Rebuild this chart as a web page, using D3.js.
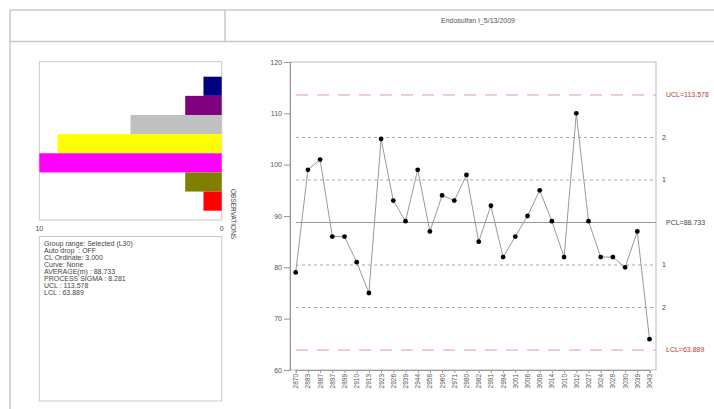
<!DOCTYPE html>
<html><head><meta charset="utf-8">
<script src="https://cdn.jsdelivr.net/npm/d3@7"></script>
<style>body{margin:0;background:#fff;}svg{display:block;font-family:"Liberation Sans",Arial,sans-serif;}</style>
</head><body>
<svg id="c" width="714" height="409"></svg>
<script>
const title = "Endosulfan I_5/13/2009";
const sampleLabels = ["2870","2883","2887","2897","2899","2910","2913","2923","2926","2939","2944","2958","2960","2971","2980","2982","2991","2994","3001","3006","3008","3014","3010","3012","3027","3024","3028","3030","3039","3043"];
const sampleValues = [79,99,101,86,86,81,75,105,93,89,99,87,94,93,98,85,92,82,86,90,95,89,82,110,89,82,82,80,87,66];
const yTicks = [60,70,80,90,100,110,120];
const histBins = ["b7","b6","b5","b4","b3","b2","b1"];
const histCounts = [1,2,5,9,10,2,1];
const histColors = ["#000080","#800080","#c0c0c0","#ffff00","#ff00ff","#808000","#ff0000"];
const histTicks = [10,0];
const centerLine = 88.733, sigma = 8.281, ucl = 113.578, lcl = 63.889;
const infoLines = ["Group range: Selected (L30)","Auto drop  : OFF","CL Ordinate: 3.000","Curve: None","AVERAGE(m) : 88.733","PROCESS SIGMA : 8.281","UCL : 113.578","LCL : 63.889"];

const svg = d3.select("#c");
const frameCol = "#c8c8c8";

// outer frame / header
svg.append("line").attr("x1",10).attr("x2",714).attr("y1",10).attr("y2",10).attr("stroke",frameCol).attr("stroke-width",1.5);
svg.append("line").attr("x1",10).attr("x2",714).attr("y1",41.5).attr("y2",41.5).attr("stroke",frameCol).attr("stroke-width",1.5);
svg.append("line").attr("x1",10).attr("x2",10).attr("y1",10).attr("y2",409).attr("stroke",frameCol).attr("stroke-width",1.5);
svg.append("line").attr("x1",225).attr("x2",225).attr("y1",10).attr("y2",41.5).attr("stroke",frameCol).attr("stroke-width",1.5);
svg.append("text").attr("x",478).attr("y",23).attr("text-anchor","middle").attr("font-size",7).attr("fill","#555").text(title);

// histogram
const hx = d3.scaleLinear().domain([10,0]).range([39.3,221.7]);
const hy = d3.scaleBand().domain(histBins).range([76.7,210.7]).padding(0);
svg.append("rect").attr("x",39.3).attr("y",61.7).attr("width",221.7-39.3).attr("height",220-61.7).attr("fill","none").attr("stroke",frameCol).attr("stroke-width",1);
svg.selectAll(".hb").data(histBins).join("rect").attr("class","hb")
  .attr("x",(d,i)=>hx(histCounts[i])).attr("y",d=>hy(d))
  .attr("width",(d,i)=>hx(0)-hx(histCounts[i])).attr("height",hy.bandwidth())
  .attr("fill",(d,i)=>histColors[i]);
svg.selectAll(".ht").data(histTicks).join("text").attr("class","ht")
  .attr("x",d=>hx(d)).attr("y",231).attr("text-anchor","middle").attr("font-size",7).attr("fill","#444").text(d=>d);
svg.append("text").attr("transform","translate(231,189) rotate(90)").attr("font-size",6.5).attr("fill","#444").text("OBSERVATIONS");

// info box
svg.append("rect").attr("x",39.3).attr("y",236.5).attr("width",221.7-39.3).attr("height",401-236.5).attr("fill","none").attr("stroke",frameCol).attr("stroke-width",1);
svg.selectAll(".il").data(infoLines).join("text").attr("class","il")
  .attr("x",44).attr("y",(d,i)=>246+i*7.05).attr("font-size",7).attr("fill","#444").style("white-space","pre").text(d=>d);

// control chart
const x = d3.scalePoint().domain(sampleLabels).range([295.7,649.5]);
const y = d3.scaleLinear().domain([60,120]).range([370,62]);
const L = 290, R = 656;
svg.append("rect").attr("x",L).attr("y",y(120)).attr("width",R-L).attr("height",y(60)-y(120)).attr("fill","none").attr("stroke",frameCol).attr("stroke-width",1.2);

const yAxis = d3.axisLeft(y).tickValues(yTicks).tickSize(6).tickPadding(2);
const gy = svg.append("g").attr("transform",`translate(${L},0)`).call(yAxis);
gy.select(".domain").attr("stroke","#999");
gy.selectAll(".tick line").attr("stroke","#999");
gy.selectAll("text").attr("font-size",7).attr("fill","#555").attr("font-family","Liberation Sans, Arial, sans-serif");

const xAxis = d3.axisBottom(x).tickSize(3).tickPadding(1);
const gx = svg.append("g").attr("transform",`translate(0,${y(60)})`).call(xAxis);
gx.select(".domain").attr("stroke","#999");
gx.selectAll(".tick line").attr("stroke","#999");
gx.selectAll("text").attr("font-size",6.5).attr("fill","#555").attr("font-family","Liberation Sans, Arial, sans-serif")
  .attr("transform","rotate(-90)").attr("text-anchor","end").attr("dy","0.32em").attr("x",-4).attr("y",0);

// reference lines
const refLines = [
  {v:ucl, dash:"12,9", col:"#e59a9a", w:1, label:"UCL=113.578", lc:"#cc3333"},
  {v:centerLine+2*sigma, dash:"3,3", col:"#aaa", w:1, label:"2", lc:"#444"},
  {v:centerLine+sigma, dash:"3,3", col:"#aaa", w:1, label:"1", lc:"#444"},
  {v:centerLine, dash:null, col:"#999", w:1, label:"PCL=88.733", lc:"#444"},
  {v:centerLine-sigma, dash:"3,3", col:"#aaa", w:1, label:"1", lc:"#444"},
  {v:centerLine-2*sigma, dash:"3,3", col:"#aaa", w:1, label:"2", lc:"#444"},
  {v:lcl, dash:"12,9", col:"#e59a9a", w:1, label:"LCL=63.889", lc:"#cc3333"}
];
refLines.forEach(r=>{
  const ln = svg.append("line").attr("x1",L+6).attr("x2",R).attr("y1",y(r.v)).attr("y2",y(r.v)).attr("stroke",r.col).attr("stroke-width",r.w);
  if(r.dash) ln.attr("stroke-dasharray",r.dash);
  svg.append("text").attr("x",r.label.length>2?666:662).attr("y",y(r.v)).attr("dy","0.35em").attr("font-size",7).attr("fill",r.lc).text(r.label);
});

// series
const line = d3.line().x((d,i)=>x(sampleLabels[i])).y(d=>y(d));
svg.append("path").datum(sampleValues).attr("d",line).attr("fill","none").attr("stroke","#999").attr("stroke-width",1);
svg.selectAll(".pt").data(sampleValues).join("circle").attr("class","pt")
  .attr("cx",(d,i)=>x(sampleLabels[i])).attr("cy",d=>y(d)).attr("r",2.4).attr("fill","#000");
</script>
</body></html>
